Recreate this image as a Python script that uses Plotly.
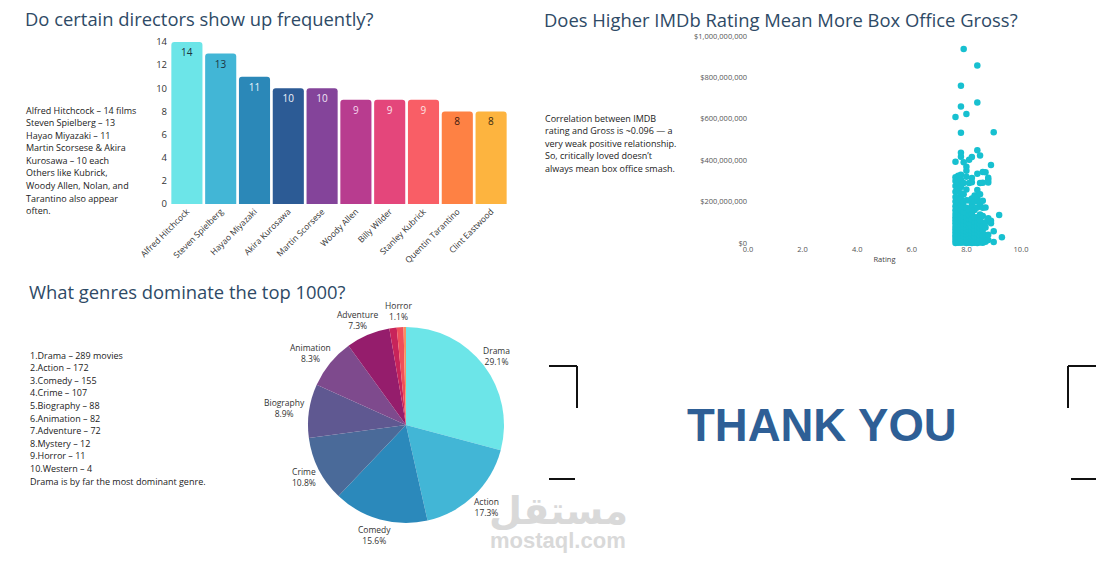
import math
import plotly.graph_objects as go

W, H = 1118, 562

# ---------------- data ----------------
directors = ["Alfred Hitchcock", "Steven Spielberg", "Hayao Miyazaki", "Akira Kurosawa",
             "Martin Scorsese", "Woody Allen", "Billy Wilder", "Stanley Kubrick",
             "Quentin Tarantino", "Clint Eastwood"]
film_counts = [14, 13, 11, 10, 10, 9, 9, 9, 8, 8]
bar_colors = ["#6ce5e8", "#42b6d6", "#2b88b8", "#2c5b95", "#84449a",
              "#b83c8f", "#e4467b", "#f95e66", "#fe8144", "#fdb43f"]
bar_text_colors = ["#1d3340", "#1d3340", "#e8f4fa", "#eef2fa", "#f2e6f6",
                   "#f6d6ee", "#fbe0ea", "#fde2e2", "#3a1a10", "#3a2a10"]

genres = ["Drama", "Action", "Comedy", "Crime", "Biography", "Animation",
          "Adventure", "Mystery", "Horror", "Western"]
genre_counts = [289, 172, 155, 107, 88, 82, 72, 12, 11, 4]
genre_colors = ["#6ce5e8", "#42b6d6", "#2b89bb", "#4a6a99", "#5f5891", "#7e4a8d",
                "#951d6c", "#c8245a", "#ef4f5a", "#f7925f"]
genre_labels_shown = [True, True, True, True, True, True, True, False, True, False]

# gross (millions of $) per IMDb rating
gross_76 = [0.3, 12, 25, 38, 52, 66, 80, 95, 110, 125, 140, 158, 178, 200, 222, 248, 275, 300, 318, 392, 609]
gross_77 = [1.5, 15, 29, 44, 58, 73, 88, 103, 119, 135, 151, 172, 195, 220, 262, 292, 325]
gross_78 = [0.8, 10, 22, 35, 48, 62, 76, 91, 106, 122, 138, 160, 185, 212, 240, 270, 305, 330, 417, 436, 533, 659, 760]
gross_79 = [2, 16, 31, 46, 61, 77, 93, 110, 128, 150, 175, 200, 235, 290, 390, 937]
gross_80 = [0.5, 13, 27, 42, 57, 72, 88, 105, 123, 145, 170, 207, 258, 320, 349, 368, 623]
gross_81 = [1, 15, 30, 45, 61, 78, 96, 115, 135, 160, 205, 290, 402]
gross_82 = [0.6, 14, 29, 44, 60, 77, 95, 114, 140, 182, 215, 293, 314, 415]
gross_83 = [1.2, 16, 32, 48, 65, 83, 102, 125, 160, 200, 230]
gross_84 = [0.4, 15, 31, 47, 64, 82, 101, 125, 172, 210, 224, 256, 335, 448, 679, 858]
gross_85 = [2, 18, 35, 53, 72, 92, 111, 138, 190, 235, 290, 423]
gross_86 = [1, 17, 35, 63, 80, 130, 170, 204, 291, 343]
gross_87 = [6, 39, 75, 100, 171, 342]
gross_88 = [14, 40, 120, 292, 305, 315]
gross_89 = [96, 107, 377]
gross_90 = [4.4, 57, 535]
gross_92 = [135]
gross_93 = [28]

gross_by_rating = [(7.6, gross_76), (7.7, gross_77), (7.8, gross_78), (7.9, gross_79),
                   (8.0, gross_80), (8.1, gross_81), (8.2, gross_82), (8.3, gross_83),
                   (8.4, gross_84), (8.5, gross_85), (8.6, gross_86), (8.7, gross_87),
                   (8.8, gross_88), (8.9, gross_89), (9.0, gross_90), (9.2, gross_92),
                   (9.3, gross_93)]
ratings, grosses = [], []
for r, gl in gross_by_rating:
    for g in gl:
        ratings.append(r)
        grosses.append(g * 1e6)

directors_note = ["Alfred Hitchcock – 14 films", "Steven Spielberg – 13", "Hayao Miyazaki – 11",
                  "Martin Scorsese &amp; Akira", "Kurosawa – 10 each", "Others like Kubrick,",
                  "Woody Allen, Nolan, and", "Tarantino also appear", "often."]
corr_note = ["Correlation between IMDB", "rating and Gross is ~0.096 — a",
             "very weak positive relationship.", "So, critically loved doesn’t",
             "always mean box office smash."]
genre_note = [f"{i + 1}.{g} – {c}" + (" movies" if i == 0 else "")
              for i, (g, c) in enumerate(zip(genres, genre_counts))]
genre_note.append("Drama is by far the most dominant genre.")

# ---------------- helpers ----------------
def px(x):
    return x / W

def py(y):
    return 1 - y / H

FONT = "Open Sans"
TITLE_COLOR = "#2e4a66"
TEXT_COLOR = "#222222"

# pie box (pixels)
PIE_X0, PIE_X1, PIE_Y0, PIE_Y1 = 308, 504, 327, 523

fig = go.Figure()

# bar chart
fig.add_trace(go.Bar(
    x=directors, y=film_counts, xaxis="x", yaxis="y",
    marker=dict(color=bar_colors, line=dict(width=0)),
    text=[str(v) for v in film_counts], textposition="inside",
    insidetextanchor="end", textangle=0,
    insidetextfont=dict(family=FONT, size=10, color=bar_text_colors),
    showlegend=False, hoverinfo="x+y",
))

# scatter
fig.add_trace(go.Scatter(
    x=ratings, y=grosses, mode="markers", xaxis="x2", yaxis="y2",
    marker=dict(color="#17c0d0", size=6.5, line=dict(width=0)),
    cliponaxis=False, showlegend=False,
))

# pie
fig.add_trace(go.Pie(
    labels=genres, values=genre_counts, sort=False, direction="clockwise",
    rotation=0,
    marker=dict(colors=genre_colors, line=dict(width=0)),
    textinfo="none",
    domain=dict(x=[px(PIE_X0), px(PIE_X1)], y=[py(PIE_Y1), py(PIE_Y0)]),
    automargin=False,
    showlegend=False,
))

axis_font = dict(family=FONT, size=9.5, color="#333333")

fig.update_layout(
    width=W, height=H,
    margin=dict(l=0, r=0, t=0, b=0, pad=0, autoexpand=False),
    paper_bgcolor="white", plot_bgcolor="white",
    font=dict(family=FONT, color=TEXT_COLOR),
    bargap=0.08,
    barcornerradius=3,
    xaxis=dict(domain=[px(170), px(508)], anchor="y", showgrid=False, zeroline=False,
               showline=False, tickangle=-45, tickfont=dict(family=FONT, size=8.5, color="#333333"),
               ticks="", automargin=False),
    yaxis=dict(domain=[py(204), py(42)], anchor="x", range=[0, 14], dtick=2,
               showgrid=False, zeroline=False, showline=False, ticks="",
               tickfont=axis_font, ticklabelstandoff=2, automargin=False),
    xaxis2=dict(domain=[px(748), px(1021)], anchor="y2", range=[0, 10], dtick=2,
                tickformat=".1f", showgrid=False, zeroline=False, showline=False, ticks="",
                tickfont=dict(family=FONT, size=7.5, color="#555555"), automargin=False,
                title=dict(text="Rating", font=dict(family=FONT, size=7.5, color="#444444"),
                           standoff=4)),
    yaxis2=dict(domain=[py(243), py(36)], anchor="x2", range=[0, 1e9], dtick=2e8,
                tickprefix="$", tickformat=",.0f", showgrid=False, zeroline=False,
                showline=False, ticks="", automargin=False,
                tickfont=dict(family=FONT, size=7.5, color="#555555")),
)

annotations = []

def add_text(x, y, text, size, color, xanchor="left", yanchor="middle", family=FONT, align="left"):
    annotations.append(dict(x=px(x), y=py(y), xref="paper", yref="paper", text=text,
                            showarrow=False, xanchor=xanchor, yanchor=yanchor, align=align,
                            font=dict(family=family, size=size, color=color)))

def add_lines(x, y0, lines, step, size):
    for i, t in enumerate(lines):
        add_text(x, y0 + i * step, t, size, TEXT_COLOR)

# titles
add_text(23, 18, "Do certain directors show up frequently?", 18.4, TITLE_COLOR)
add_text(542, 20, "Does Higher IMDb Rating Mean More Box Office Gross?", 18.4, TITLE_COLOR)
add_text(27, 291, "What genres dominate the top 1000?", 18.4, TITLE_COLOR)

# text blocks
add_lines(24, 110, directors_note, 12.6, 9)
add_lines(543, 118, corr_note, 12.6, 9)
add_lines(28, 355, genre_note, 12.6, 9)

# pie slice labels, placed just outside each slice's mid-angle (derived from the counts)
cx, cy = (PIE_X0 + PIE_X1) / 2, (PIE_Y0 + PIE_Y1) / 2
radius = min(PIE_X1 - PIE_X0, PIE_Y1 - PIE_Y0) / 2
total = sum(genre_counts)
cum = 0
for g, c, show in zip(genres, genre_counts, genre_labels_shown):
    mid = (cum + c / 2) / total * 2 * math.pi
    cum += c
    if show:
        pct = f"{c / total:.1%}"
        half_w = 2.1 * max(len(g), len(pct))
        half_h = 10
        s, co = math.sin(mid), math.cos(mid)
        lx = cx + (radius + 6) * s + s * half_w
        ly = cy - (radius + 6) * co - co * half_h
        add_text(lx, ly, f"{g}<br>{pct}", 8.5, "#333333", xanchor="center", align="center")

# thank you
add_text(822, 425, "<b>THANK YOU</b>", 45.5, "#2e5f96", xanchor="center", family="Liberation Sans")

# watermark
add_text(558, 511, "<b>مستقل</b>", 38, "#d9d9d9", xanchor="center", family="DejaVu Sans")
add_text(558, 540, "<b>mostaql.com</b>", 22, "#d9d9d9", xanchor="center", family="Liberation Sans")

fig.update_layout(annotations=annotations)

# corner brackets
def line(x0, y0, x1, y1):
    return dict(type="line", xref="paper", yref="paper", x0=px(x0), y0=py(y0),
                x1=px(x1), y1=py(y1), line=dict(color="#111111", width=2))

fig.update_layout(shapes=[
    line(549, 366, 577, 366), line(577, 366, 577, 408), line(549, 479, 575, 479),
    line(1068, 366, 1096, 366), line(1068, 366, 1068, 408), line(1071, 479, 1096, 479),
])

fig.write_html("out.html")
